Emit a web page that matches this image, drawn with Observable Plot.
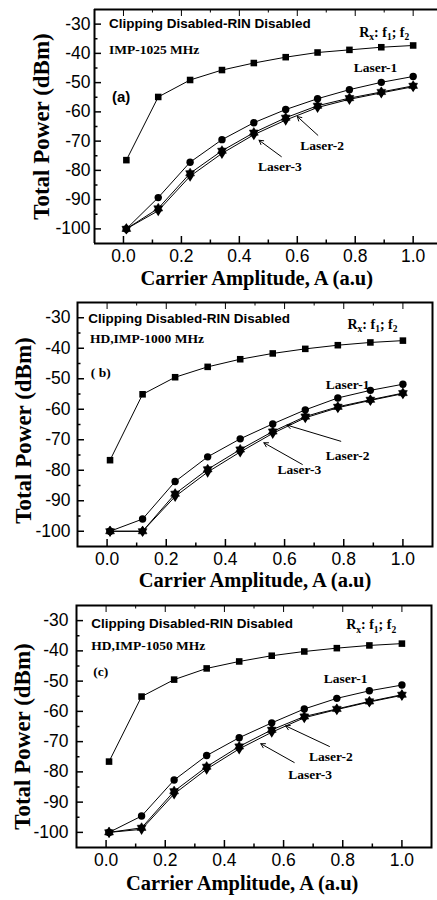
<!DOCTYPE html>
<html><head><meta charset="utf-8">
<script src="https://cdn.jsdelivr.net/npm/d3@7"></script>
<script src="https://cdn.jsdelivr.net/npm/@observablehq/plot@0.6"></script>
<style>
body{margin:0;background:#fff;}
#wrap{width:437px;height:900px;overflow:hidden;background:#fff;}
svg{display:block;}
</style>
</head><body><div id="wrap"></div>
<script>
// ---------- data ----------
const amplitude = [0.01, 0.12, 0.23, 0.34, 0.45, 0.56, 0.67, 0.78, 0.89, 1.0];

const rxA     = [-76.5, -54.9, -49.1, -45.7, -43.3, -41.3, -39.7, -38.8, -37.9, -37.3];
const laser1A = [-100, -89.3, -77.2, -69.5, -63.7, -59.2, -55.5, -52.4, -49.9, -47.9];
const laser2A = [-100, -93.0, -81.0, -73.3, -67.1, -62.0, -57.9, -55.3, -53.2, -51.1];
const laser3A = [-100, -93.8, -82.0, -74.2, -67.8, -62.8, -58.5, -55.7, -53.5, -51.4];

const rxB     = [-76.7, -55.1, -49.5, -46.1, -43.6, -41.7, -40.2, -39.0, -38.1, -37.5];
const laser1B = [-100, -96.0, -83.7, -75.6, -69.7, -64.8, -60.2, -56.3, -53.8, -51.8];
const laser2B = [-100, -100, -87.7, -79.7, -73.2, -67.3, -62.4, -59.2, -56.9, -54.7];
const laser3B = [-100, -100, -88.6, -80.6, -74.0, -67.9, -62.8, -59.5, -57.1, -54.9];

const rxC     = [-76.6, -55.1, -49.5, -45.8, -43.5, -41.6, -40.2, -39.1, -38.2, -37.6];
const laser1C = [-100, -94.6, -82.7, -74.6, -68.7, -63.8, -59.2, -55.7, -53.2, -51.3];
const laser2C = [-100, -98.5, -86.4, -78.3, -71.6, -66.1, -61.7, -59.2, -56.7, -54.5];
const laser3C = [-100, -99.0, -87.3, -79.1, -72.4, -66.9, -62.1, -59.4, -56.9, -54.7];

const xTicks = [0.0, 0.2, 0.4, 0.6, 0.8, 1.0];
const xMinorTicks = [0.1, 0.3, 0.5, 0.7, 0.9];
const yTicks = [-30, -40, -50, -60, -70, -80, -90, -100];
const yMinorTicks = [-35, -45, -55, -65, -75, -85, -95];

const xTitle = "Carrier Amplitude, A (a.u)";
const yTitle = "Total Power (dBm)";
const headerText = "Clipping Disabled-RIN Disabled";
const subHeaders = ["IMP-1025 MHz", "HD,IMP-1000 MHz", "HD,IMP-1050 MHz"];
const panelTags = ["(a)", "( b)", "(c)"];
const seriesNames = ["Rx: f1; f2", "Laser-1", "Laser-2", "Laser-3"];

// annotation anchors (data units) per panel: [x, y]
const headerPos = [[-0.05, -30.0], [-0.064, -30.4], [-0.05, -31.0]];
const subPos    = [[-0.05, -38.6], [-0.058, -36.9], [-0.05, -38.2]];
const tagPos    = [[-0.04, -55.0], [-0.055, -48.0], [-0.043, -46.8]];
const rxLabelPos = [[0.90, -32.8], [0.897, -32.2], [0.896, -31.3]];
const l1LabelPos = [[0.87, -44.8], [0.813, -51.9], [0.81, -49.2]];
const l2LabelPos = [[0.686, -71.7], [0.813, -75.2], [0.76, -75.0]];
const l3LabelPos = [[0.54, -78.8], [0.65, -79.7], [0.69, -81.0]];
const l2ArrowFrom = [[0.671, -68.0], [0.79, -70.5], [0.755, -71.6]];
const l2ArrowTo   = [[0.60, -61.6], [0.608, -65.2], [0.607, -64.8]];
const l3ArrowFrom = [[0.545, -75.3], [0.66, -78.1], [0.636, -76.9]];
const l3ArrowTo   = [[0.468, -69.7], [0.53, -71.0], [0.523, -70.7]];

// ---------- symbols ----------
const diamondTall = {draw(ctx, size){ const r = Math.sqrt(size/Math.PI); const w = r*0.95, h = r*1.55;
  ctx.moveTo(0,-h); ctx.lineTo(w,0); ctx.lineTo(0,h); ctx.lineTo(-w,0); ctx.closePath(); }};
const hexStar = {draw(ctx, size){ const r = Math.sqrt(size/Math.PI); const R = r*1.35, ri = R*0.62;
  for(let i=0;i<12;i++){ const a = Math.PI/2 + i*Math.PI/6; const rr = i%2? ri : R;
    const px = rr*Math.cos(a), py = -rr*Math.sin(a); if(i===0) ctx.moveTo(px,py); else ctx.lineTo(px,py);} ctx.closePath(); }};

const serif = "Liberation Serif, Times New Roman, serif";
const sans = "Liberation Sans, Arial, sans-serif";

function rows(vals){ return amplitude.map((a,i)=>({a, v: vals[i]})); }

function panel(k, cfg){
  const {series, width, height, mt, mb, ml, mr, xDomain, fullFrame, tickPad, yTitleX, yTitleDy, xTitleX, xTitleDy} = cfg;
  const yDomain = [-105, -25];
  const pw = width - ml - mr, ph = height - mt - mb;
  const ux = (xDomain[1]-xDomain[0])/pw, uy = (yDomain[1]-yDomain[0])/ph;
  const major = 7, minor = 3.5;
  const [rx, l1, l2, l3] = series.map(rows);
  const lineOpt = {x:"a", y:"v", stroke:"black", strokeWidth:1};
  const txt = (str, pos, o) => Plot.text([str], {x: pos[0], y: pos[1], fill:"black", lineAnchor:"middle", ...o});
  const marks = [
    // ticks (inside)
    Plot.ruleX(xTicks, {x:d=>d, y1:yDomain[0], y2:yDomain[0]+major*uy, stroke:"black", strokeWidth:1.5}),
    Plot.ruleX(xMinorTicks, {x:d=>d, y1:yDomain[0], y2:yDomain[0]+minor*uy, stroke:"black", strokeWidth:1.5}),
    Plot.ruleX(xTicks, {x:d=>d, y1:yDomain[1], y2:yDomain[1]-major*uy, stroke:"black", strokeWidth:1}),
    Plot.ruleX(xMinorTicks, {x:d=>d, y1:yDomain[1], y2:yDomain[1]-minor*uy, stroke:"black", strokeWidth:1}),
    Plot.ruleY(yTicks, {y:d=>d, x1:xDomain[0], x2:xDomain[0]+major*ux, stroke:"black", strokeWidth:1.5}),
    Plot.ruleY(yMinorTicks, {y:d=>d, x1:xDomain[0], x2:xDomain[0]+minor*ux, stroke:"black", strokeWidth:1.5}),
    // frame
    fullFrame ? Plot.frame({stroke:"black", strokeWidth:2}) : null,
    fullFrame ? null : Plot.ruleY([yDomain[0], yDomain[1]], {y:d=>d, stroke:"black", strokeWidth:2}),
    fullFrame ? null : Plot.ruleX([xDomain[0]], {x:d=>d, stroke:"black", strokeWidth:2}),
    // axes
    Plot.axisX({ticks: xTicks, tickSize:0, tickPadding: 6, tickFormat: d3.format(".1f"), fontSize: 17.5, fontFamily: sans, label: null}),
    Plot.axisY({ticks: yTicks, tickSize:0, tickPadding: tickPad, tickFormat: d=>String(d), fontSize: 17.5, fontFamily: sans, label: null}),
    // lines
    Plot.line(rx, lineOpt), Plot.line(l1, lineOpt), Plot.line(l2, lineOpt), Plot.line(l3, lineOpt),
    Plot.dot(rx, {x:"a", y:"v", symbol:"square", r:3.7, fill:"black", stroke:"none"}),
    Plot.dot(l1, {x:"a", y:"v", symbol:"circle", r:3.7, fill:"black", stroke:"none"}),
    Plot.dot(l3, {x:"a", y:"v", symbol:diamondTall, r:3.6, fill:"black", stroke:"none"}),
    Plot.dot(l2, {x:"a", y:"v", symbol:hexStar, r:3.8, fill:"black", stroke:"black", strokeWidth:0.5}),
    // arrows
    Plot.arrow([0], {x1: l2ArrowFrom[k][0], y1: l2ArrowFrom[k][1], x2: l2ArrowTo[k][0], y2: l2ArrowTo[k][1], stroke:"black", strokeWidth:1, headLength:7}),
    Plot.arrow([0], {x1: l3ArrowFrom[k][0], y1: l3ArrowFrom[k][1], x2: l3ArrowTo[k][0], y2: l3ArrowTo[k][1], stroke:"black", strokeWidth:1, headLength:7}),
    // annotations
    txt(headerText, headerPos[k], {textAnchor:"start", fontFamily:sans, fontWeight:"bold", fontSize:13.5}),
    txt(subHeaders[k], subPos[k], {textAnchor:"start", fontFamily:serif, fontWeight:"bold", fontSize:13.5}),
    txt(panelTags[k], tagPos[k], {textAnchor:"start", fontFamily: k===0? sans : serif, fontWeight:"bold", fontSize: k===0? 15 : 13.5}),
    txt(seriesNames[0], rxLabelPos[k], {textAnchor:"middle", fontFamily:serif, fontWeight:"bold", fontSize:14}),
    txt(seriesNames[1], l1LabelPos[k], {textAnchor:"middle", fontFamily:serif, fontWeight:"bold", fontSize:13.5}),
    txt(seriesNames[2], l2LabelPos[k], {textAnchor:"middle", fontFamily:serif, fontWeight:"bold", fontSize:13.5}),
    txt(seriesNames[3], l3LabelPos[k], {textAnchor:"middle", fontFamily:serif, fontWeight:"bold", fontSize:13.5}),
    // titles
    Plot.text([xTitle], {x: xTitleX, frameAnchor:"bottom", dy: xTitleDy, lineAnchor:"middle", fontFamily:serif, fontWeight:"bold", fontSize:20.5, fill:"black"}),
    Plot.text([yTitle], {frameAnchor:"left", dx: yTitleX - ml, dy: yTitleDy, rotate:-90, lineAnchor:"middle", textAnchor:"middle", fontFamily:serif, fontWeight:"bold", fontSize:23, fill:"black"})
  ].filter(Boolean);
  const svg = Plot.plot({
    width, height, marginTop: mt, marginBottom: mb, marginLeft: ml, marginRight: mr,
    x: {domain: xDomain}, y: {domain: yDomain},
    style: {background:"white", color:"black", fontFamily: sans, overflow:"visible"},
    marks
  });
  // subscripts for Rx label
  svg.querySelectorAll("text").forEach(t => {
    if (t.textContent === seriesNames[0]) {
      t.innerHTML = 'R<tspan dy="3.5" font-size="9.5">x</tspan><tspan dy="-3.5">: f</tspan><tspan dy="3.5" font-size="9.5">1</tspan><tspan dy="-3.5">; f</tspan><tspan dy="3.5" font-size="9.5">2</tspan>';
    }
  });
  return svg;
}

const wrap = document.getElementById("wrap");
wrap.appendChild(panel(0, {series:[rxA, laser1A, laser2A, laser3A], width:437, height:292, mt:9, mb:49, ml:94, mr:0,
  xDomain:[-0.1, 1.084], fullFrame:false, tickPad:4, yTitleX:41, yTitleDy:0, xTitleX:0.46, xTitleDy:35}));
wrap.appendChild(panel(1, {series:[rxB, laser1B, laser2B, laser3B], width:437, height:303, mt:10, mb:49, ml:77, mr:5,
  xDomain:[-0.1, 1.1], fullFrame:true, tickPad:7, yTitleX:23, yTitleDy:6, xTitleX:0.5, xTitleDy:34}));
wrap.appendChild(panel(2, {series:[rxC, laser1C, laser2C, laser3C], width:437, height:305, mt:10, mb:53, ml:76, mr:6,
  xDomain:[-0.1, 1.1], fullFrame:true, tickPad:8, yTitleX:22, yTitleDy:10, xTitleX:0.46, xTitleDy:36}));
</script>
</body></html>
